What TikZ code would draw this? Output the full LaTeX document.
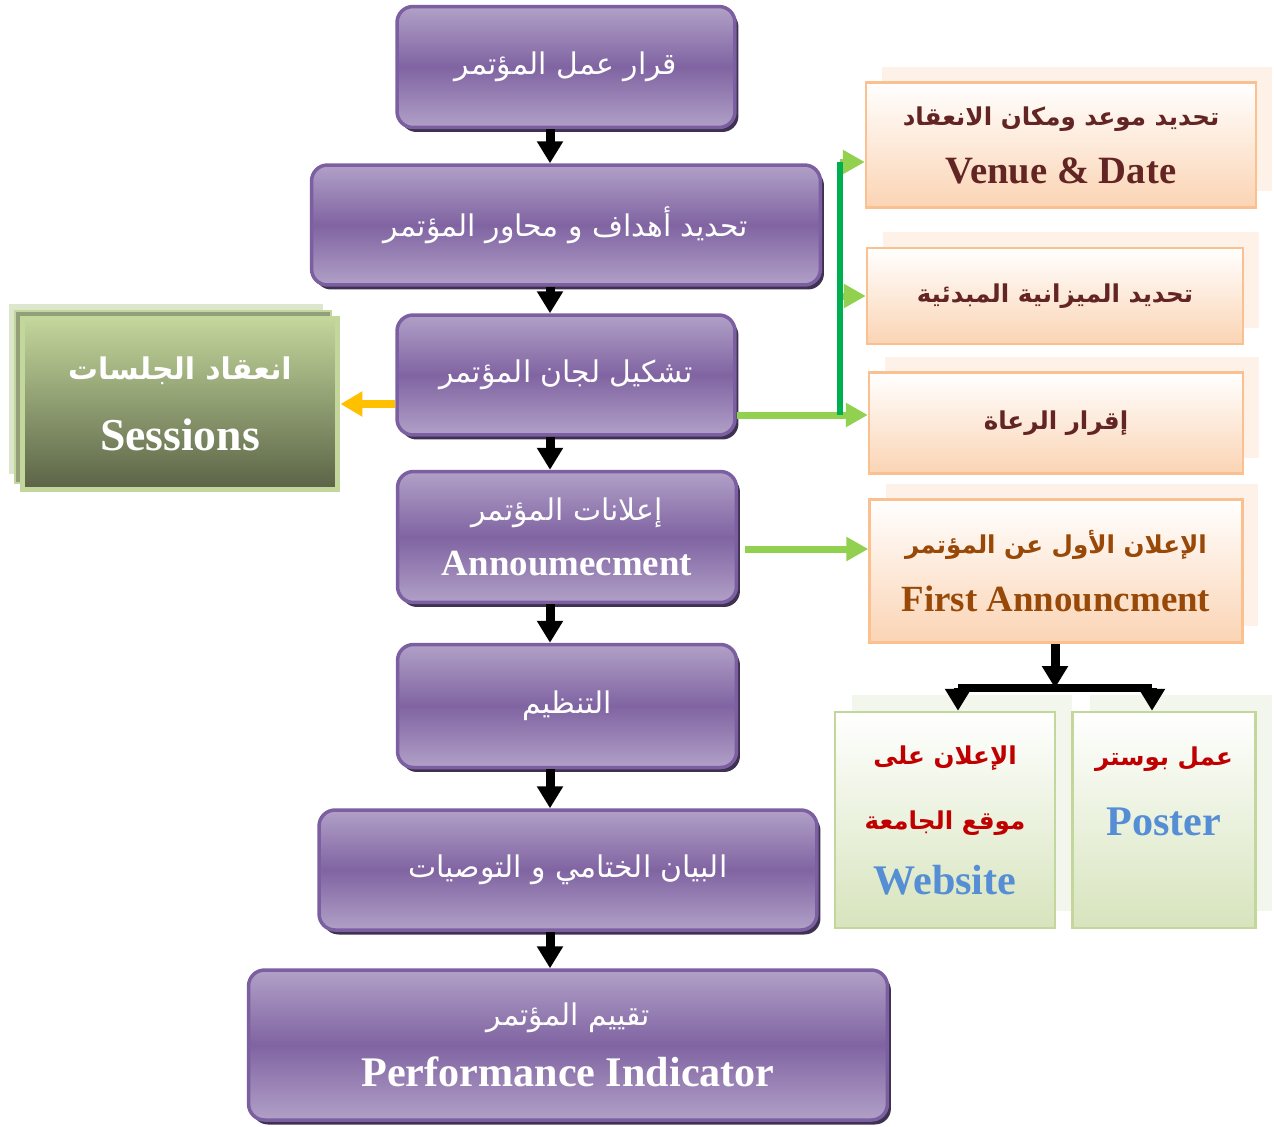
\documentclass[tikz,border=0pt]{standalone}
\usepackage{fontspec}
\setmainfont{Liberation Serif}
\newfontfamily\arabicfont[Script=Arabic]{DejaVu Sans}
\TeXXeTstate=1
\usepackage{tikz}
\usetikzlibrary{arrows.meta, shadows}

\definecolor{stagelight}{HTML}{B1A0C7}
\definecolor{stagedark}{HTML}{8064A2}
\definecolor{stageborder}{HTML}{7B5FA0}
\definecolor{stageshadow}{HTML}{3F3151}
\definecolor{taskborder}{HTML}{FAC090}
\definecolor{taskfill}{HTML}{FBD4B4}
\definecolor{taskshadow}{HTML}{FDF1E8}
\definecolor{tasktext}{HTML}{632523}
\definecolor{firsttext}{HTML}{984807}
\definecolor{mediaborder}{HTML}{C3D69B}
\definecolor{mediafill}{HTML}{D7E4BD}
\definecolor{mediashadow}{HTML}{F3F6EC}
\definecolor{mediared}{HTML}{C00000}
\definecolor{mediablue}{HTML}{558ED5}
\definecolor{sessiontop}{HTML}{C3D69B}
\definecolor{sessionbottom}{HTML}{5A6346}
\definecolor{sessionmid}{HTML}{939F78}
\definecolor{sessionback}{HTML}{DCE6CC}
\definecolor{linkgreen}{HTML}{92D050}
\definecolor{branchgreen}{HTML}{00B050}
\definecolor{sideorange}{HTML}{FFC000}

\newcommand{\arabtxt}[1]{{\arabicfont\beginR #1\endR}}
\newcommand{\sz}[2]{\fontsize{#1}{#2}\selectfont}

\tikzstyle{stage} = [rectangle, rounded corners=0.32cm, draw=stageborder, line width=0.07cm, top color=stagelight, bottom color=stagelight, middle color=stagedark, text=white, align=center, font=\sz{17}{31}, drop shadow={shadow xshift=0.07cm, shadow yshift=-0.09cm, fill=stageshadow, opacity=1}]
\tikzstyle{session} = [rectangle, draw=sessiontop, line width=0.1cm, top color=sessiontop, bottom color=sessionbottom, text=white, align=center, font=\bfseries\sz{17}{40}, general shadow={shadow xshift=-0.28cm, shadow yshift=0.3cm, fill=sessionback, draw=white, line width=0.04cm}, general shadow={shadow xshift=-0.14cm, shadow yshift=0.14cm, fill=sessionmid, draw=sessiontop, line width=0.04cm}]
\tikzstyle{task} = [rectangle, draw=taskborder, line width=0.05cm, top color=white, bottom color=taskfill, text=tasktext, align=center, font=\bfseries\sz{14}{33}, general shadow={shadow xshift=0.32cm, shadow yshift=0.32cm, fill=taskshadow}]
\tikzstyle{media} = [rectangle, draw=mediaborder, line width=0.05cm, top color=white, bottom color=mediafill, text=mediared, align=center, font=\bfseries\sz{14}{37}, general shadow={shadow xshift=0.34cm, shadow yshift=0.34cm, fill=mediashadow}]
\tikzstyle{flow} = [line width=0.18cm, black, -{Triangle[width=0.5cm, length=0.44cm]}]
\tikzstyle{flowbar} = [line width=0.16cm, black]
\tikzstyle{linkarrow} = [line width=0.14cm, linkgreen, -{Triangle[width=0.46cm, length=0.44cm]}]
\tikzstyle{branchline} = [line width=0.12cm, branchgreen]
\tikzstyle{sidearrow} = [line width=0.16cm, sideorange, -{Triangle[width=0.48cm, length=0.44cm]}]

\begin{document}
\begin{tikzpicture}[x=0.02cm, y=-0.02cm]
\useasboundingbox (0,0) rectangle (1274,1126);

% main stages
\node (decision) [stage, minimum width=6.76cm, minimum height=2.42cm] at (566,67) {\arabtxt{قرار عمل المؤتمر}};
\node (goals) [stage, minimum width=10.18cm, minimum height=2.4cm] at (566,225) {\arabtxt{تحديد أهداف و محاور المؤتمر}};
\node (committees) [stage, minimum width=6.76cm, minimum height=2.4cm] at (566,375) {\arabtxt{تشكيل لجان المؤتمر}};
\node (announce) [stage, minimum width=6.78cm, minimum height=2.62cm] at (567,537) {\arabtxt{إعلانات المؤتمر}\\ {\bfseries\sz{21}{26}Annoumecment}};
\node (organize) [stage, minimum width=6.78cm, minimum height=2.46cm] at (567,706) {\arabtxt{التنظيم}};
\node (closing) [stage, minimum width=9.96cm, minimum height=2.4cm] at (568,870) {\arabtxt{البيان الختامي و التوصيات}};
\node (evaluation) [stage, minimum width=12.78cm, minimum height=3cm, font=\sz{17}{35}] at (568,1045) {\arabtxt{تقييم المؤتمر}\\ {\bfseries\sz{24}{28}Performance Indicator}};

% sessions
\node (sessions) [session, minimum width=6.32cm, minimum height=3.44cm] at (180,404) {\arabtxt{انعقاد الجلسات}\\ {\sz{26}{30}Sessions}};

% committee tasks
\node (venue) [task, minimum width=7.8cm, minimum height=2.5cm] at (1061,145) {\arabtxt{تحديد موعد ومكان الانعقاد}\\ {\sz{22}{26}Venue \& Date}};
\node (budget) [task, minimum width=7.52cm, minimum height=1.92cm] at (1055,296) {\arabtxt{تحديد الميزانية المبدئية}};
\node (sponsors) [task, minimum width=7.48cm, minimum height=2.02cm] at (1056,423) {\arabtxt{إقرار الرعاة}};
\node (first) [task, text=firsttext, minimum width=7.46cm, minimum height=2.86cm] at (1056,571) {\arabtxt{الإعلان الأول عن المؤتمر}\\ {\sz{21}{24}First Announcment}};

% media
\node (website) [media, minimum width=4.4cm, minimum height=4.32cm] at (945,820) {\arabtxt{الإعلان على}\\ \arabtxt{موقع الجامعة}\\ {\color{mediablue}\sz{24}{28}Website}};
\node (poster) [media, minimum width=3.66cm, minimum height=4.32cm, font=\bfseries\sz{14}{40}] at (1164,820) {\arabtxt{عمل بوستر}\\ {\color{mediablue}\sz{24}{28}Poster}\\[-19pt]\strut};

% main flow
\coordinate (spine) at (550,0);
\draw [flow] (decision.south -| spine) -- (goals.north -| spine);
\draw [flow] (goals.south -| spine) -- (committees.north -| spine);
\draw [flow] (committees.south -| spine) -- (announce.north -| spine);
\draw [flow] (announce.south -| spine) -- (organize.north -| spine);
\draw [flow] (organize.south -| spine) -- (closing.north -| spine);
\draw [flow] (closing.south -| spine) -- (evaluation.north -| spine);

% side links
\draw [sidearrow] (committees.west |- sessions.east) -- (sessions.east);
\coordinate (branchtop) at (840,162);
\coordinate (branchbottom) at (840,415);
\draw [linkarrow] (committees.east |- branchbottom) -- (sponsors.west |- branchbottom);
\draw [linkarrow] (branchtop) -- (venue.west |- branchtop);
\draw [linkarrow] (branchtop |- budget.west) -- (budget.west);
\draw [branchline] (branchtop) -- (branchbottom);
\coordinate (announcelink) at (745,549);
\draw [linkarrow] (announcelink) -- (announcelink -| first.west);

% split to media
\coordinate (split) at (1055,688);
\coordinate (splitleft) at (958,688);
\coordinate (splitright) at (1152,688);
\draw [flowbar] (splitleft) -- (splitright);
\draw [flow] (first.south -| split) -- (split);
\draw [flow] (splitleft) -- (splitleft |- website.north);
\draw [flow] (splitright) -- (splitright |- poster.north);
\end{tikzpicture}
\end{document}
